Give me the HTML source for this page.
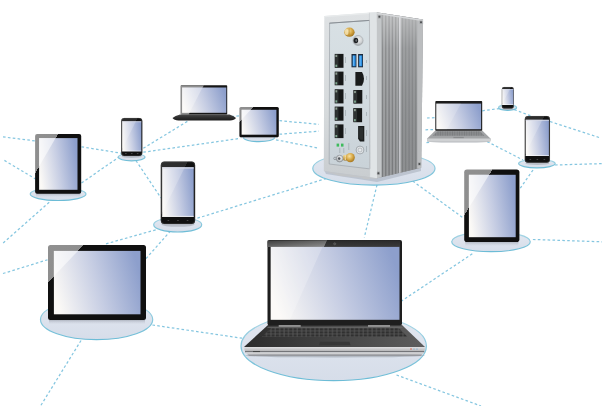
<!DOCTYPE html>
<html><head><meta charset="utf-8"><title>network</title>
<style>
html,body{margin:0;padding:0;background:#ffffff;}
body{width:607px;height:406px;overflow:hidden;font-family:"Liberation Sans",sans-serif;}
svg{display:block;}
</style></head><body>
<svg width="607" height="406" viewBox="0 0 607 406">
<defs>
<linearGradient id="scr" x1="0" y1="0.6" x2="1" y2="0.4">
<stop offset="0" stop-color="#fbf9f6"/>
<stop offset="0.5" stop-color="#c6cde3"/>
<stop offset="1" stop-color="#8d9fcc"/>
</linearGradient>
<linearGradient id="lap1base" x1="0" y1="0" x2="0" y2="1">
<stop offset="0" stop-color="#4a4a4a"/>
<stop offset="0.4" stop-color="#333333"/>
<stop offset="1" stop-color="#1c1c1c"/>
</linearGradient>
<linearGradient id="deckg" x1="0" y1="0" x2="1" y2="0">
<stop offset="0" stop-color="#2c2c2c"/>
<stop offset="0.5" stop-color="#444444"/>
<stop offset="1" stop-color="#5e5e5e"/>
</linearGradient>
<linearGradient id="bezg" x1="0" y1="0" x2="1" y2="1">
<stop offset="0" stop-color="#3c3c3c"/>
<stop offset="1" stop-color="#8e8e8e"/>
</linearGradient>
<linearGradient id="bezg2" x1="0" y1="0" x2="0" y2="1">
<stop offset="0" stop-color="#2a2a2a"/>
<stop offset="1" stop-color="#3a3a3a"/>
</linearGradient>
<pattern id="keys" patternUnits="userSpaceOnUse" width="4.4" height="3" x="262" y="327.8">
<rect width="4.4" height="3" fill="#5e5e5e"/>
<rect x="0.6" y="0.5" width="3.4" height="2.1" rx="0.5" fill="#2e2e2e"/>
</pattern>
<linearGradient id="gold" x1="0" y1="0" x2="0" y2="1">
<stop offset="0" stop-color="#f0d890"/>
<stop offset="0.45" stop-color="#d4a94c"/>
<stop offset="1" stop-color="#9c7628"/>
</linearGradient>
<linearGradient id="shad" x1="0" y1="0" x2="0" y2="1">
<stop offset="0" stop-color="#8a909c" stop-opacity="0.75"/>
<stop offset="1" stop-color="#c8ceda" stop-opacity="0"/>
</linearGradient>
<linearGradient id="silv" x1="0" y1="0" x2="0" y2="1">
<stop offset="0" stop-color="#e0e0e2"/>
<stop offset="1" stop-color="#b4b4b6"/>
</linearGradient>
<linearGradient id="finsh" gradientUnits="userSpaceOnUse" x1="0" y1="12" x2="0" y2="178">
<stop offset="0" stop-color="#ffffff" stop-opacity="0.38"/>
<stop offset="0.22" stop-color="#ffffff" stop-opacity="0.1"/>
<stop offset="1" stop-color="#000000" stop-opacity="0.04"/>
</linearGradient>
<pattern id="keys2" patternUnits="userSpaceOnUse" width="2.4" height="1.5" x="432" y="131.3">
<rect width="2.4" height="1.5" fill="#9c9ea0"/>
<rect x="0.35" y="0.25" width="1.7" height="1.0" fill="#6a6c6e"/>
</pattern>
<radialGradient id="goldr" cx="0.4" cy="0.35" r="0.65">
<stop offset="0" stop-color="#f6e2a6"/>
<stop offset="0.55" stop-color="#d8aa48"/>
<stop offset="1" stop-color="#a87820"/>
</radialGradient>
<radialGradient id="silr" cx="0.55" cy="0.4" r="0.6">
<stop offset="0" stop-color="#f2f2f2"/>
<stop offset="0.6" stop-color="#cfd2d4"/>
<stop offset="1" stop-color="#9a9ea2"/>
</radialGradient>
<linearGradient id="framg" gradientUnits="userSpaceOnUse" x1="0" y1="12" x2="0" y2="178">
<stop offset="0" stop-color="#dfe2e4"/>
<stop offset="0.6" stop-color="#d6dadc"/>
<stop offset="1" stop-color="#c9cdd0"/>
</linearGradient>
<linearGradient id="pang" gradientUnits="userSpaceOnUse" x1="0" y1="20" x2="0" y2="169">
<stop offset="0" stop-color="#d8e0e4"/>
<stop offset="0.5" stop-color="#d2dbe0"/>
<stop offset="1" stop-color="#c9d2d8"/>
</linearGradient>
<linearGradient id="ellst" x1="0" y1="0" x2="0" y2="1">
<stop offset="0" stop-color="#b4dae8"/>
<stop offset="0.45" stop-color="#8ccade"/>
<stop offset="1" stop-color="#6cbcd6"/>
</linearGradient>
<linearGradient id="hg1" gradientUnits="userSpaceOnUse" x1="-115.03" y1="33.69" x2="231.03" y2="234.31"><stop offset="0" stop-color="#9c9c9c"/><stop offset="0.5" stop-color="#8e8e8e"/><stop offset="0.5" stop-color="#101010"/><stop offset="1" stop-color="#101010"/></linearGradient><linearGradient id="hg2" gradientUnits="userSpaceOnUse" x1="-41.41" y1="28.81" x2="316.61" y2="207.19"><stop offset="0" stop-color="#3e3e3e"/><stop offset="0.5" stop-color="#2c2c2c"/><stop offset="0.5" stop-color="#111111"/><stop offset="1" stop-color="#111111"/></linearGradient><linearGradient id="hg3" gradientUnits="userSpaceOnUse" x1="8.56" y1="72.58" x2="366.76" y2="250.62"><stop offset="0" stop-color="#3e3e3e"/><stop offset="0.5" stop-color="#2c2c2c"/><stop offset="0.5" stop-color="#111111"/><stop offset="1" stop-color="#111111"/></linearGradient><linearGradient id="hg4" gradientUnits="userSpaceOnUse" x1="105.27" y1="-27.59" x2="401.33" y2="241.39"><stop offset="0" stop-color="#9c9c9c"/><stop offset="0.5" stop-color="#8e8e8e"/><stop offset="0.5" stop-color="#101010"/><stop offset="1" stop-color="#101010"/></linearGradient><linearGradient id="hg5" gradientUnits="userSpaceOnUse" x1="-61.74" y1="107.5" x2="228.74" y2="382.5"><stop offset="0" stop-color="#9c9c9c"/><stop offset="0.5" stop-color="#8e8e8e"/><stop offset="0.5" stop-color="#101010"/><stop offset="1" stop-color="#101010"/></linearGradient><linearGradient id="hg6" gradientUnits="userSpaceOnUse" x1="322.05" y1="64.77" x2="662.95" y2="274.03"><stop offset="0" stop-color="#9c9c9c"/><stop offset="0.5" stop-color="#8e8e8e"/><stop offset="0.5" stop-color="#101010"/><stop offset="1" stop-color="#101010"/></linearGradient><linearGradient id="hg7" gradientUnits="userSpaceOnUse" x1="335.46" y1="-8.33" x2="686.99" y2="182.53"><stop offset="0" stop-color="#3e3e3e"/><stop offset="0.5" stop-color="#2c2c2c"/><stop offset="0.5" stop-color="#111111"/><stop offset="1" stop-color="#111111"/></linearGradient><linearGradient id="hg8" gradientUnits="userSpaceOnUse" x1="365.35" y1="26.74" x2="723.21" y2="205.46"><stop offset="0" stop-color="#3e3e3e"/><stop offset="0.5" stop-color="#2c2c2c"/><stop offset="0.5" stop-color="#111111"/><stop offset="1" stop-color="#111111"/></linearGradient>
<linearGradient id="ellg" x1="0" y1="0" x2="0" y2="1">
<stop offset="0" stop-color="#e3e8f1"/>
<stop offset="1" stop-color="#d6dde9"/>
</linearGradient>
</defs>
<rect width="607" height="406" fill="#ffffff"/>
<line x1="3" y1="136.9" x2="36" y2="141" stroke="#70bcdb" stroke-width="1.25" stroke-dasharray="2.6 2.3" stroke-opacity="0.85"/>
<line x1="4.4" y1="160.4" x2="35.5" y2="179" stroke="#70bcdb" stroke-width="1.25" stroke-dasharray="2.6 2.3" stroke-opacity="0.85"/>
<line x1="81.5" y1="146.8" x2="121" y2="153.2" stroke="#70bcdb" stroke-width="1.25" stroke-dasharray="2.6 2.3" stroke-opacity="0.85"/>
<line x1="81.5" y1="183" x2="119" y2="157" stroke="#70bcdb" stroke-width="1.25" stroke-dasharray="2.6 2.3" stroke-opacity="0.85"/>
<line x1="143.3" y1="148.3" x2="188" y2="121" stroke="#70bcdb" stroke-width="1.25" stroke-dasharray="2.6 2.3" stroke-opacity="0.85"/>
<line x1="143.3" y1="152.2" x2="240" y2="138.4" stroke="#70bcdb" stroke-width="1.25" stroke-dasharray="2.6 2.3" stroke-opacity="0.85"/>
<line x1="136" y1="160.6" x2="161" y2="198" stroke="#70bcdb" stroke-width="1.25" stroke-dasharray="2.6 2.3" stroke-opacity="0.85"/>
<line x1="49.2" y1="202.3" x2="3" y2="243.1" stroke="#70bcdb" stroke-width="1.25" stroke-dasharray="2.6 2.3" stroke-opacity="0.85"/>
<line x1="3" y1="273.5" x2="47.5" y2="259.8" stroke="#70bcdb" stroke-width="1.25" stroke-dasharray="2.6 2.3" stroke-opacity="0.85"/>
<line x1="106" y1="243.8" x2="157" y2="229.5" stroke="#70bcdb" stroke-width="1.25" stroke-dasharray="2.6 2.3" stroke-opacity="0.85"/>
<line x1="146" y1="258.6" x2="170" y2="231.5" stroke="#70bcdb" stroke-width="1.25" stroke-dasharray="2.6 2.3" stroke-opacity="0.85"/>
<line x1="197.4" y1="218.2" x2="326" y2="178.6" stroke="#70bcdb" stroke-width="1.25" stroke-dasharray="2.6 2.3" stroke-opacity="0.85"/>
<line x1="231.5" y1="116.5" x2="239.6" y2="115.8" stroke="#70bcdb" stroke-width="1.25" stroke-dasharray="2.6 2.3" stroke-opacity="0.85"/>
<line x1="279.5" y1="120.6" x2="319" y2="124.4" stroke="#70bcdb" stroke-width="1.25" stroke-dasharray="2.6 2.3" stroke-opacity="0.85"/>
<line x1="279.5" y1="134.2" x2="319" y2="131.2" stroke="#70bcdb" stroke-width="1.25" stroke-dasharray="2.6 2.3" stroke-opacity="0.85"/>
<line x1="276" y1="139.8" x2="319" y2="148.2" stroke="#70bcdb" stroke-width="1.25" stroke-dasharray="2.6 2.3" stroke-opacity="0.85"/>
<line x1="152.4" y1="325" x2="242" y2="338.2" stroke="#70bcdb" stroke-width="1.25" stroke-dasharray="2.6 2.3" stroke-opacity="0.85"/>
<line x1="81" y1="340.5" x2="40.5" y2="406" stroke="#70bcdb" stroke-width="1.25" stroke-dasharray="2.6 2.3" stroke-opacity="0.85"/>
<line x1="377" y1="184.8" x2="364.3" y2="237.5" stroke="#70bcdb" stroke-width="1.25" stroke-dasharray="2.6 2.3" stroke-opacity="0.85"/>
<line x1="412.7" y1="181" x2="464" y2="218.5" stroke="#70bcdb" stroke-width="1.25" stroke-dasharray="2.6 2.3" stroke-opacity="0.85"/>
<line x1="427" y1="118" x2="435.5" y2="117.7" stroke="#70bcdb" stroke-width="1.25" stroke-dasharray="2.6 2.3" stroke-opacity="0.85"/>
<line x1="425.5" y1="129.8" x2="435.5" y2="129.6" stroke="#70bcdb" stroke-width="1.25" stroke-dasharray="2.6 2.3" stroke-opacity="0.85"/>
<line x1="426.5" y1="142.6" x2="431" y2="142.3" stroke="#70bcdb" stroke-width="1.25" stroke-dasharray="2.6 2.3" stroke-opacity="0.85"/>
<line x1="482.3" y1="110.8" x2="501" y2="108.3" stroke="#70bcdb" stroke-width="1.25" stroke-dasharray="2.6 2.3" stroke-opacity="0.85"/>
<line x1="514.3" y1="109.6" x2="530.4" y2="115.7" stroke="#70bcdb" stroke-width="1.25" stroke-dasharray="2.6 2.3" stroke-opacity="0.85"/>
<line x1="550" y1="121.5" x2="599" y2="137.5" stroke="#70bcdb" stroke-width="1.25" stroke-dasharray="2.6 2.3" stroke-opacity="0.85"/>
<line x1="487.2" y1="141.6" x2="523" y2="160" stroke="#70bcdb" stroke-width="1.25" stroke-dasharray="2.6 2.3" stroke-opacity="0.85"/>
<line x1="555" y1="165" x2="602" y2="163.6" stroke="#70bcdb" stroke-width="1.25" stroke-dasharray="2.6 2.3" stroke-opacity="0.85"/>
<line x1="533" y1="170" x2="519" y2="190" stroke="#70bcdb" stroke-width="1.25" stroke-dasharray="2.6 2.3" stroke-opacity="0.85"/>
<line x1="532.9" y1="239.5" x2="602" y2="241.8" stroke="#70bcdb" stroke-width="1.25" stroke-dasharray="2.6 2.3" stroke-opacity="0.85"/>
<line x1="472.3" y1="253.8" x2="401" y2="301.4" stroke="#70bcdb" stroke-width="1.25" stroke-dasharray="2.6 2.3" stroke-opacity="0.85"/>
<line x1="396.5" y1="375" x2="481" y2="406" stroke="#70bcdb" stroke-width="1.25" stroke-dasharray="2.6 2.3" stroke-opacity="0.85"/>
<ellipse cx="58.1" cy="194.1" rx="27.9" ry="6.4" fill="url(#ellg)" stroke="url(#ellst)" stroke-width="1.2"/>
<ellipse cx="131.6" cy="157.1" rx="13.4" ry="3.7" fill="url(#ellg)" stroke="url(#ellst)" stroke-width="1.2"/>
<ellipse cx="259" cy="137.8" rx="15.5" ry="3.8" fill="url(#ellg)" stroke="url(#ellst)" stroke-width="1.2"/>
<ellipse cx="177.7" cy="224.7" rx="24" ry="7.3" fill="url(#ellg)" stroke="url(#ellst)" stroke-width="1.2"/>
<ellipse cx="96.6" cy="319.5" rx="56.1" ry="20.2" fill="url(#ellg)" stroke="url(#ellst)" stroke-width="1.2"/>
<ellipse cx="333.7" cy="346" rx="92.7" ry="34.7" fill="url(#ellg)" stroke="url(#ellst)" stroke-width="1.2"/>
<ellipse cx="373.9" cy="168.5" rx="61.1" ry="16.6" fill="url(#ellg)" stroke="url(#ellst)" stroke-width="1.2"/>
<ellipse cx="507.6" cy="107.6" rx="9" ry="2.7" fill="url(#ellg)" stroke="url(#ellst)" stroke-width="1.2"/>
<ellipse cx="536.9" cy="163.6" rx="18.3" ry="4.2" fill="url(#ellg)" stroke="url(#ellst)" stroke-width="1.2"/>
<ellipse cx="491" cy="241.7" rx="39.3" ry="10" fill="url(#ellg)" stroke="url(#ellst)" stroke-width="1.2"/>
<rect x="36.1" y="192.8" width="44.1" height="4.59" fill="url(#shad)"/>
<rect x="35.1" y="134" width="46.1" height="59.8" rx="2" fill="url(#hg1)"/>
<rect x="39.1" y="138.1" width="38.4" height="51.7" fill="url(#scr)"/>
<polygon points="39.1,138.1 55.62,138.1 39.1,166.6" fill="#ffffff" fill-opacity="0.55"/>
<ellipse cx="131.75" cy="156.6" rx="10.13" ry="1.33" fill="#9aa0aa" opacity="0.55"/>
<rect x="121.2" y="118" width="21.1" height="38" rx="3" fill="url(#hg2)"/>
<rect x="121.5" y="118.3" width="20.5" height="37.4" rx="3" fill="none" stroke="#555555" stroke-width="0.5" opacity="0.8"/>
<rect x="122.2" y="121.3" width="19.1" height="30" fill="url(#scr)"/>
<polygon points="122.2,121.3 135.95,121.3 122.2,148.9" fill="#ffffff" fill-opacity="0.22"/>
<rect x="122.2" y="121.3" width="19.1" height="0.9" fill="#d8dbe6" opacity="0.8"/>
<rect x="122.2" y="150.76" width="19.1" height="0.54" fill="#ffffff" opacity="0.9"/>
<rect x="125.04" y="153.25" width="1.6" height="0.8" fill="#555555"/>
<rect x="130.95" y="153.25" width="1.6" height="0.8" fill="#555555"/>
<rect x="136.86" y="153.25" width="1.6" height="0.8" fill="#555555"/>
<ellipse cx="177.95" cy="224.6" rx="16.46" ry="2.18" fill="#9aa0aa" opacity="0.55"/>
<rect x="160.8" y="161.6" width="34.3" height="62.4" rx="3.5" fill="url(#hg3)"/>
<rect x="161.1" y="161.9" width="33.7" height="61.8" rx="3.5" fill="none" stroke="#555555" stroke-width="0.5" opacity="0.8"/>
<rect x="162.2" y="167.2" width="31.5" height="49.6" fill="url(#scr)"/>
<polygon points="162.2,167.2 184.88,167.2 162.2,212.83" fill="#ffffff" fill-opacity="0.22"/>
<rect x="162.2" y="167.2" width="31.5" height="1.49" fill="#d8dbe6" opacity="0.8"/>
<rect x="162.2" y="215.91" width="31.5" height="0.89" fill="#ffffff" opacity="0.9"/>
<rect x="167.55" y="220" width="1.6" height="0.8" fill="#555555"/>
<rect x="177.15" y="220" width="1.6" height="0.8" fill="#555555"/>
<rect x="186.75" y="220" width="1.6" height="0.8" fill="#555555"/>
<rect x="240.4" y="136.2" width="37.4" height="2.82" fill="url(#shad)"/>
<rect x="239.4" y="106.9" width="39.4" height="30.3" rx="1.5" fill="url(#hg4)"/>
<rect x="241.6" y="109.8" width="34.8" height="24.9" fill="url(#scr)"/>
<polygon points="241.6,109.8 250.67,109.8 241.6,119.78" fill="#ffffff" fill-opacity="0.55"/>
<rect x="49" y="319" width="96" height="5.5" fill="url(#shad)"/>
<rect x="48" y="245" width="98" height="75" rx="2.5" fill="url(#hg5)"/>
<rect x="53.9" y="250.9" width="86.6" height="63.4" fill="url(#scr)"/>
<polygon points="53.9,250.9 77.91,250.9 53.9,276.27" fill="#ffffff" fill-opacity="0.55"/>
<rect x="465.2" y="241" width="53.2" height="5.36" fill="url(#shad)"/>
<rect x="464.2" y="169.4" width="55.2" height="72.6" rx="2.8" fill="url(#hg6)"/>
<rect x="468.9" y="174.8" width="46.8" height="62.4" fill="url(#scr)"/>
<polygon points="468.9,174.8 489.19,174.8 468.9,207.84" fill="#ffffff" fill-opacity="0.55"/>
<ellipse cx="507.8" cy="109" rx="5.66" ry="1" fill="#9aa0aa" opacity="0.55"/>
<rect x="501.9" y="87.1" width="11.8" height="21.3" rx="2" fill="url(#hg7)"/>
<rect x="502.2" y="87.4" width="11.2" height="20.7" rx="2" fill="none" stroke="#555555" stroke-width="0.5" opacity="0.8"/>
<rect x="502.2" y="89" width="11.1" height="16" fill="url(#scr)"/>
<polygon points="502.2,89 510.19,89 502.2,103.72" fill="#ffffff" fill-opacity="0.22"/>
<rect x="502.2" y="89" width="11.1" height="0.6" fill="#d8dbe6" opacity="0.8"/>
<rect x="502.2" y="104.5" width="11.1" height="0.5" fill="#ffffff" opacity="0.9"/>
<ellipse cx="537.35" cy="163.3" rx="12.05" ry="1.63" fill="#9aa0aa" opacity="0.55"/>
<rect x="524.8" y="116.1" width="25.1" height="46.6" rx="3" fill="url(#hg8)"/>
<rect x="525.1" y="116.4" width="24.5" height="46" rx="3" fill="none" stroke="#555555" stroke-width="0.5" opacity="0.8"/>
<rect x="525.8" y="119.8" width="23.1" height="36.2" fill="url(#scr)"/>
<polygon points="525.8,119.8 542.43,119.8 525.8,153.1" fill="#ffffff" fill-opacity="0.22"/>
<rect x="525.8" y="119.8" width="23.1" height="1.09" fill="#d8dbe6" opacity="0.8"/>
<rect x="525.8" y="155.35" width="23.1" height="0.65" fill="#ffffff" opacity="0.9"/>
<rect x="529.52" y="158.95" width="1.6" height="0.8" fill="#555555"/>
<rect x="536.55" y="158.95" width="1.6" height="0.8" fill="#555555"/>
<rect x="543.58" y="158.95" width="1.6" height="0.8" fill="#555555"/>
<path d="M180,114.5 L229.5,114.5 Q233.5,115.8 236,118 Q234.5,120.3 230,120.4 L178.5,120.4 Q174,120.3 172.5,118 Q175,115.8 180,114.5 Z" fill="url(#lap1base)"/>
<rect x="180.8" y="85.2" width="46.4" height="29.3" rx="0.8" fill="#161616"/>
<polygon points="180.8,85.2 203.9,85.2 188.7,114.5 180.8,114.5" fill="#8e8e8e"/>
<rect x="182.1" y="87.5" width="44.2" height="25.3" fill="url(#scr)"/>
<polygon points="182.1,87.5 202.5,87.5 189.5,112.8 182.1,112.8" fill="#ffffff" fill-opacity="0.3"/>
<ellipse cx="459" cy="141.6" rx="31" ry="1.2" fill="#9aa0a8" opacity="0.5"/>
<path d="M435.3,130.5 L482.2,130.5 L490.7,138.8 L490.2,141.4 L427.4,141.4 L426.9,138.8 Z" fill="#a2a4a6"/>
<path d="M437.5,131.3 L480,131.3 L484.5,135.8 L432.8,135.8 Z" fill="url(#keys2)"/>
<rect x="453.4" y="136.9" width="10.4" height="1.5" fill="#8a8c8e"/>
<path d="M426.9,138.6 L490.7,138.6 L490.2,141.4 L427.4,141.4 Z" fill="#cfd1d3"/>
<rect x="435.3" y="101.1" width="46.9" height="29.6" rx="0.8" fill="#1c1c1c"/>
<rect x="436.3" y="103.6" width="44.8" height="25.6" fill="url(#scr)"/>
<polygon points="436.3,103.6 461,103.6 447,129.2 436.3,129.2" fill="#ffffff" fill-opacity="0.18"/>
<ellipse cx="335" cy="355.5" rx="90" ry="2" fill="#9aa0aa" opacity="0.6"/>
<path d="M268,325 L402,325 L425,347 L244,347 Z" fill="url(#deckg)"/>
<path d="M271.5,327.8 L398.5,327.8 L407.5,336.8 L262,336.8 Z" fill="url(#keys)"/>
<path d="M271.5,327.8 L398.5,327.8 L407.5,336.8 L262,336.8 Z" fill="#2a2a2a" opacity="0.2"/>
<path d="M268,326.8 L402,326.8 L403,327.8 L267,327.8 Z" fill="#6a6a6a"/>
<polygon points="320,341.8 349.5,341.8 350.5,345.2 319,345.2" fill="#333333" opacity="0.8"/>
<path d="M244.8,347 L424.6,347 Q425.6,349 424.2,351.2 L245.2,351.2 Q243.4,349 244.8,347 Z" fill="url(#silv)"/>
<rect x="245" y="351.2" width="179.2" height="1.1" fill="#5e5e60"/>
<rect x="253" y="351.3" width="7" height="0.9" fill="#333"/>
<path d="M245.4,352.3 L424,352.3 L422.2,354.6 L247.4,354.6 Z" fill="#cfcfd1"/>
<path d="M247.4,354.6 L422.2,354.6 L420.5,355.8 L249.2,355.8 Z" fill="#8e8e92"/>
<circle cx="411" cy="349" r="0.7" fill="#e05030"/>
<circle cx="414" cy="349" r="0.6" fill="#5aa0d0"/>
<circle cx="417" cy="349" r="0.6" fill="#5aa0d0"/>
<rect x="267.5" y="240" width="134.5" height="85.4" rx="2" fill="#1e1e1e"/>
<polygon points="267.5,240.6 327.3,240.2 324.2,247 267.5,247" fill="url(#bezg)"/>
<polygon points="327.3,240.2 400,240.2 400,247 324.2,247" fill="url(#bezg2)"/>
<circle cx="334.7" cy="243.8" r="1.1" fill="#4a4a4a" stroke="#777" stroke-width="0.4"/>
<rect x="270.7" y="246.9" width="128.8" height="72.9" fill="url(#scr)"/>
<polygon points="270.7,246.9 322.5,246.9 290,319.8 270.7,319.8" fill="#ffffff" fill-opacity="0.22"/>
<rect x="278.7" y="325.1" width="22" height="1.7" fill="#9c9c9c"/>
<rect x="368" y="325.1" width="22" height="1.7" fill="#9c9c9c"/>
<clipPath id="sideclip"><polygon points="376.5,12.2 423.1,19.5 421.2,167.8 377,178.3"/></clipPath>
<polygon points="324,170 377,177.5 421,167 421,171 377,182 326,174" fill="#9aa2b0" opacity="0.45"/>
<polygon points="376.5,12.2 423.1,19.5 421.2,167.8 377,178.3" fill="#939597"/>
<g clip-path="url(#sideclip)">
<rect x="376.5" y="0" width="5.3" height="190" fill="#c3c6c8"/>
<rect x="381.8" y="0" width="1.4" height="190" fill="#7e8082"/>
<rect x="383.2" y="0" width="1.93" height="190" fill="#a0a2a4"/>
<rect x="385.13" y="0" width="1.4" height="190" fill="#7e8082"/>
<rect x="386.53" y="0" width="1.93" height="190" fill="#a0a2a4"/>
<rect x="388.46" y="0" width="1.4" height="190" fill="#7e8082"/>
<rect x="389.86" y="0" width="1.93" height="190" fill="#a0a2a4"/>
<rect x="391.79" y="0" width="1.4" height="190" fill="#7e8082"/>
<rect x="393.19" y="0" width="1.93" height="190" fill="#a0a2a4"/>
<rect x="395.12" y="0" width="1.4" height="190" fill="#7e8082"/>
<rect x="396.52" y="0" width="1.93" height="190" fill="#a0a2a4"/>
<rect x="398.45" y="0" width="1.4" height="190" fill="#7e8082"/>
<rect x="399.85" y="0" width="1.93" height="190" fill="#a0a2a4"/>
<rect x="401.78" y="0" width="1.4" height="190" fill="#828486"/>
<rect x="403.18" y="0" width="1.93" height="190" fill="#939597"/>
<rect x="405.11" y="0" width="1.4" height="190" fill="#828486"/>
<rect x="406.51" y="0" width="1.93" height="190" fill="#939597"/>
<rect x="408.44" y="0" width="1.4" height="190" fill="#828486"/>
<rect x="409.84" y="0" width="1.93" height="190" fill="#939597"/>
<rect x="411.77" y="0" width="1.4" height="190" fill="#828486"/>
<rect x="413.17" y="0" width="1.93" height="190" fill="#939597"/>
<rect x="415.1" y="0" width="1.4" height="190" fill="#828486"/>
<rect x="416.5" y="0" width="1.93" height="190" fill="#939597"/>
<rect x="399" y="0" width="1.6" height="190" fill="#cacbd0"/>
<rect x="417.2" y="0" width="6" height="190" fill="#bbbdbf"/>
<rect x="381.8" y="0" width="35.4" height="190" fill="url(#finsh)"/>
<polyline points="376.5,13.2 423.1,20.5" stroke="#d6d8da" stroke-width="1.6" fill="none"/>
</g>
<polygon points="324.3,15.9 376.5,12.2 377,178.3 323.8,171" fill="url(#framg)"/>
<polygon points="369.4,12.6 376.5,12.2 377,178.3 369.6,177.2" fill="#e0e4e6"/>
<polygon points="324.3,15.9 369.4,12.6 369.5,14 324.3,17.3" fill="#e8ebec"/>
<polygon points="329.6,23.1 369.5,20.4 369.8,168.9 329.2,164" fill="url(#pang)" stroke="#9fa5aa" stroke-width="0.7"/>
<polygon points="323.8,171 377,178.3 377,179 340,176 " fill="#c2c5c8"/>
<line x1="329.4" y1="23.2" x2="369.6" y2="20.4" stroke="#8a9096" stroke-width="1"/>
<line x1="369.4" y1="12.7" x2="369.7" y2="177" stroke="#c4c8cb" stroke-width="0.6"/>
<polygon points="362.5,176.2 369.5,177.2 369.5,179.6 362.5,178.8" fill="#c2c5c8"/>
<rect x="377.9" y="15.1" width="3" height="3.4" fill="#a4a6a8"/>
<circle cx="379.4" cy="16.8" r="1.0" fill="#4a4c4e"/>
<rect x="419.5" y="20.5" width="3" height="3.4" fill="#a4a6a8"/>
<circle cx="421" cy="22.2" r="1.0" fill="#4a4c4e"/>
<rect x="376.9" y="171.6" width="3" height="3.4" fill="#a4a6a8"/>
<circle cx="378.4" cy="173.3" r="1.0" fill="#4a4c4e"/>
<rect x="417.9" y="162.2" width="3" height="3.4" fill="#a4a6a8"/>
<circle cx="419.4" cy="163.9" r="1.0" fill="#4a4c4e"/>
<rect x="334.7" y="53.9" width="8.8" height="13.9" fill="#161818"/>
<rect x="335.1" y="54.3" width="3.34" height="13.1" fill="#2e3232"/>
<rect x="335.4" y="54.8" width="1.8" height="2.2" fill="#8c9c90"/>
<rect x="335.4" y="64.7" width="1.8" height="2.2" fill="#7ea890"/>
<rect x="334.7" y="71.6" width="8.8" height="13.7" fill="#161818"/>
<rect x="335.1" y="72" width="3.34" height="12.9" fill="#2e3232"/>
<rect x="335.4" y="72.5" width="1.8" height="2.2" fill="#8c9c90"/>
<rect x="335.4" y="82.2" width="1.8" height="2.2" fill="#7ea890"/>
<rect x="334.7" y="89.3" width="8.8" height="14.1" fill="#161818"/>
<rect x="335.1" y="89.7" width="3.34" height="13.3" fill="#2e3232"/>
<rect x="335.4" y="90.2" width="1.8" height="2.2" fill="#8c9c90"/>
<rect x="335.4" y="100.3" width="1.8" height="2.2" fill="#7ea890"/>
<rect x="334.7" y="106.6" width="8.8" height="14.1" fill="#161818"/>
<rect x="335.1" y="107" width="3.34" height="13.3" fill="#2e3232"/>
<rect x="335.4" y="107.5" width="1.8" height="2.2" fill="#8c9c90"/>
<rect x="335.4" y="117.6" width="1.8" height="2.2" fill="#7ea890"/>
<rect x="334.7" y="124.4" width="8.8" height="13.7" fill="#161818"/>
<rect x="335.1" y="124.8" width="3.34" height="12.9" fill="#2e3232"/>
<rect x="335.4" y="125.3" width="1.8" height="2.2" fill="#8c9c90"/>
<rect x="335.4" y="135" width="1.8" height="2.2" fill="#7ea890"/>
<path d="M355.4,71.9 L362,71.9 Q364,75 364,78.8 Q364,82.6 362,85.7 L355.4,85.7 Z" fill="#1a1c1c"/>
<rect x="353.4" y="90" width="8.9" height="13.6" fill="#161818"/>
<rect x="353.8" y="90.4" width="3.38" height="12.8" fill="#2e3232"/>
<rect x="354.1" y="90.9" width="1.8" height="2.2" fill="#8c9c90"/>
<rect x="354.1" y="100.5" width="1.8" height="2.2" fill="#7ea890"/>
<rect x="353.3" y="108.1" width="8.8" height="14.1" fill="#161818"/>
<rect x="353.7" y="108.5" width="3.34" height="13.3" fill="#2e3232"/>
<rect x="354" y="109" width="1.8" height="2.2" fill="#8c9c90"/>
<rect x="354" y="119.1" width="1.8" height="2.2" fill="#7ea890"/>
<rect x="351.5" y="54" width="4.9" height="13.3" fill="#1e2a3a"/>
<rect x="352.6" y="55.4" width="3.0" height="10.9" fill="#2b8fe2"/>
<rect x="353.1" y="55.8" width="1.0" height="10" fill="#6ab8f8"/>
<rect x="358.1" y="54" width="4.9" height="13.3" fill="#1e2a3a"/>
<rect x="359.2" y="55.4" width="3.0" height="10.9" fill="#2b8fe2"/>
<rect x="359.7" y="55.8" width="1.0" height="10" fill="#6ab8f8"/>
<polygon points="358.1,125.9 364.3,125.9 364.3,141.4 360,141.4 358.1,138.8" fill="#1b1e1e"/>
<polygon points="359.3,127.3 363.1,127.3 363.1,139.8 360.6,139.8 359.3,137.8" fill="#2c3030"/>
<circle cx="360" cy="150" r="3.9" fill="#e4e8ea" stroke="#8a9096" stroke-width="0.7"/>
<circle cx="360" cy="150" r="2.0" fill="none" stroke="#9aa0a6" stroke-width="0.6"/>
<rect x="336.6" y="143.6" width="2.5" height="3" fill="#3dbb5c"/>
<rect x="341" y="143.6" width="2.5" height="3" fill="#3dbb5c"/>
<rect x="345.2" y="57" width="0.7" height="6" fill="#8a949a" opacity="0.7"/>
<rect x="345.2" y="75" width="0.7" height="6" fill="#8a949a" opacity="0.7"/>
<rect x="345.2" y="93" width="0.7" height="6" fill="#8a949a" opacity="0.7"/>
<rect x="345.2" y="110" width="0.7" height="6" fill="#8a949a" opacity="0.7"/>
<rect x="345.2" y="128" width="0.7" height="6" fill="#8a949a" opacity="0.7"/>
<rect x="366" y="60" width="0.7" height="3" fill="#8a949a" opacity="0.7"/>
<rect x="366" y="76" width="0.7" height="4" fill="#8a949a" opacity="0.7"/>
<rect x="366" y="95" width="0.7" height="4" fill="#8a949a" opacity="0.7"/>
<rect x="366" y="112" width="0.7" height="4" fill="#8a949a" opacity="0.7"/>
<rect x="366" y="130" width="0.7" height="6" fill="#8a949a" opacity="0.7"/>
<rect x="366" y="146" width="0.7" height="6" fill="#8a949a" opacity="0.7"/>
<rect x="339.5" y="148" width="0.7" height="5" fill="#8a949a" opacity="0.7"/>
<rect x="343.5" y="148" width="0.7" height="5" fill="#8a949a" opacity="0.7"/>
<rect x="348.5" y="143" width="0.7" height="7" fill="#8a949a" opacity="0.7"/>
<circle cx="335" cy="158.4" r="1.3" fill="none" stroke="#707478" stroke-width="0.5"/>
<circle cx="339.6" cy="158.6" r="3.4" fill="url(#silr)" stroke="#7a7e82" stroke-width="0.5"/>
<circle cx="339.2" cy="158.6" r="1.3" fill="#55595d"/>
<rect x="343.2" y="155" width="6.5" height="5.4" rx="1" fill="url(#gold)"/>
<rect x="344.6" y="155.4" width="1.4" height="4.6" fill="#f4e2b0" opacity="0.8"/>
<ellipse cx="350.3" cy="157.6" rx="4.5" ry="4.7" fill="url(#goldr)"/>
<ellipse cx="349.4" cy="32.2" rx="5.2" ry="4.6" fill="url(#goldr)"/>
<ellipse cx="346.6" cy="32" rx="2" ry="3" fill="#f6e6b8" opacity="0.75"/>
<rect x="348.6" y="28.5" width="1" height="7.4" fill="#b88a30" opacity="0.7"/>
<circle cx="358" cy="40.5" r="5.1" fill="url(#silr)" stroke="#9ca0a4" stroke-width="0.5"/>
<ellipse cx="355.9" cy="40.5" rx="2.3" ry="2.8" fill="#1e2022"/>
<ellipse cx="356.3" cy="40.5" rx="0.9" ry="1.2" fill="#6a6e72"/>
</svg>
</body></html>
